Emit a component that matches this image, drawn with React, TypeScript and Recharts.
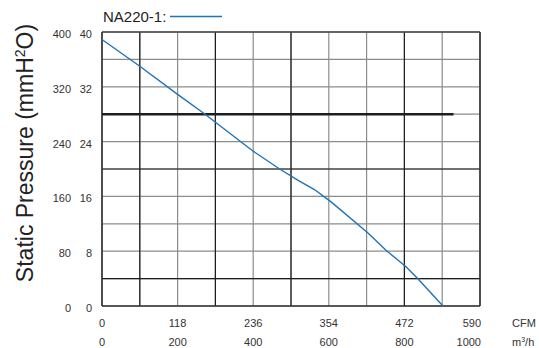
import { LineChart, Line, XAxis, YAxis, CartesianGrid, ReferenceLine, Legend } from "recharts";

// fan curve NA220-1, flow in m³/h, static pressure in mmH2O
const flow = [0, 100, 200, 270, 400, 470, 520, 562, 606, 703, 752, 805, 835, 902];
const pressure = [38.9, 35.0, 30.9, 28.1, 22.6, 20.0, 18.3, 17.0, 15.2, 10.7, 8.1, 5.7, 4.0, 0];

const xTicks = [0, 100, 200, 300, 400, 500, 600, 700, 800, 900, 1000];
const m3hLabels = [0, 200, 400, 600, 800, 1000];
const cfmLabels = ["0", "118", "236", "354", "472", "590"];

const yTicks = [0, 4, 8, 12, 16, 20, 24, 28, 32, 36, 40];
const mmLabels = [0, 8, 16, 24, 32, 40];
const paLabels = ["0", "80", "160", "240", "320", "400"];

const darkX = [100, 300, 500, 800];
const darkY = [4, 20];
const markLevel = 28;
const markEnd = 930;

const seriesName = "NA220-1";
const BLUE = "#1f73b7";
const FONT = "'Liberation Sans', Arial, Helvetica, sans-serif";

const data = flow.map((f, i) => ({ flow: f, pressure: pressure[i] }));

function FlowTick({ x, y, payload }: any) {
  const i = m3hLabels.indexOf(payload.value);
  if (i < 0) return <g />;
  const last = i === m3hLabels.length - 1;
  const tx = last ? x + 1 : x;
  const anchor = last ? "end" : "middle";
  return (
    <g fontFamily={FONT} fontSize={11} fill="#333">
      <text x={tx} y={y + 21} textAnchor={anchor}>{cfmLabels[i]}</text>
      <text x={tx} y={y + 40} textAnchor={anchor}>{m3hLabels[i]}</text>
      {last && (
        <>
          <text x={x + 32} y={y + 21}>CFM</text>
          <text x={x + 32} y={y + 40}>
            m<tspan dy={-4} fontSize={7}>3</tspan>
            <tspan dy={4}>/h</tspan>
          </text>
        </>
      )}
    </g>
  );
}

function PressureTick({ x, y, payload }: any) {
  const i = mmLabels.indexOf(payload.value);
  if (i < 0) return <g />;
  return (
    <g fontFamily={FONT} fontSize={11} fill="#333" textAnchor="end">
      <text x={x} y={y + 6}>{mmLabels[i]}</text>
      <text x={x - 21} y={y + 6}>{paLabels[i]}</text>
    </g>
  );
}

function PressureLabel({ viewBox }: any) {
  const cx = viewBox.x + 31;
  const cy = viewBox.y + 121;
  return (
    <text
      x={cx}
      y={cy}
      transform={`rotate(-90 ${cx} ${cy})`}
      textAnchor="middle"
      fontFamily={FONT}
      fontSize={23}
      fill="#222"
    >
      Static Pressure (mmH<tspan dy={-8} fontSize={14}>2</tspan>
      <tspan dy={8}>O)</tspan>
    </text>
  );
}

function renderLegend() {
  return (
    <svg width={539} height={30}>
      <text x={103} y={22} fontFamily={FONT} fontSize={15} fill="#222">
        {seriesName}:
      </text>
      <line x1={170} x2={222} y1={16.5} y2={16.5} stroke={BLUE} strokeWidth={1.3} />
    </svg>
  );
}

export default function App() {
  return (
    <div style={{ position: "absolute", left: 0, top: 0, background: "#fff" }}>
      <LineChart width={539} height={348} data={data} margin={{ top: 32, right: 59, bottom: 2, left: 2 }}>
        <CartesianGrid stroke="#8c8c8c" strokeWidth={1.2} horizontalValues={yTicks} verticalValues={xTicks} />
        <XAxis
          type="number"
          dataKey="flow"
          domain={[0, 1000]}
          ticks={xTicks}
          interval={0}
          height={40}
          axisLine={false}
          tickLine={false}
          tickSize={0}
          tickMargin={0}
          tick={<FlowTick />}
        />
        <YAxis
          type="number"
          domain={[0, 40]}
          ticks={yTicks}
          interval={0}
          width={100}
          axisLine={false}
          tickLine={false}
          tickSize={0}
          tickMargin={10}
          tick={<PressureTick />}
          label={<PressureLabel />}
        />
        <Legend
          layout="vertical"
          align="center"
          verticalAlign="middle"
          content={renderLegend}
          wrapperStyle={{ position: "absolute", top: 0, left: 0, width: 539, height: 30 }}
        />
        {darkX.map((v) => (
          <ReferenceLine key={"dx" + v} x={v} stroke="#1e1e1e" strokeWidth={1.2} />
        ))}
        {darkY.map((v) => (
          <ReferenceLine key={"dy" + v} y={v} stroke="#1e1e1e" strokeWidth={1.2} />
        ))}
        <ReferenceLine x={0} stroke="#333" strokeWidth={1.6} />
        <ReferenceLine x={1000} stroke="#333" strokeWidth={1.6} />
        <ReferenceLine y={0} stroke="#333" strokeWidth={1.6} />
        <ReferenceLine y={40} stroke="#444" strokeWidth={1.4} />
        <ReferenceLine
          segment={[
            { x: 0, y: markLevel },
            { x: markEnd, y: markLevel },
          ]}
          stroke="#1e1e1e"
          strokeWidth={2.5}
        />
        <Line
          type="linear"
          dataKey="pressure"
          name={seriesName}
          stroke={BLUE}
          strokeWidth={1.4}
          dot={false}
          isAnimationActive={false}
        />
      </LineChart>
    </div>
  );
}
